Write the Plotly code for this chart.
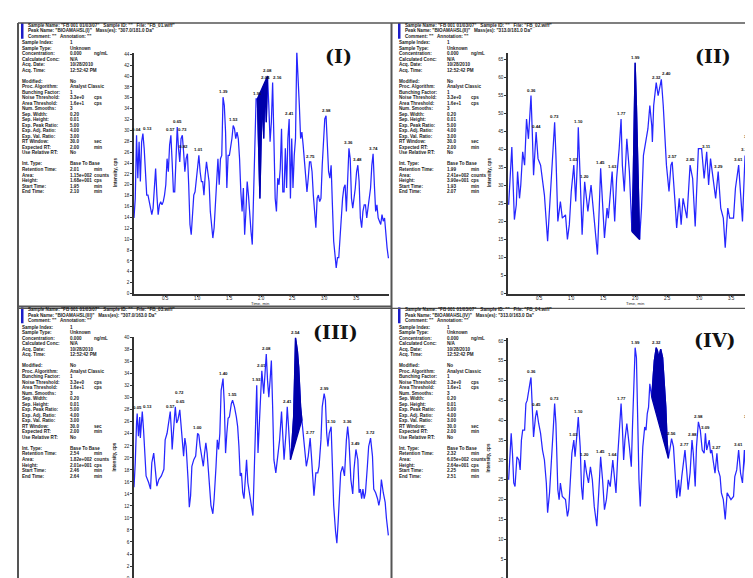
import plotly.graph_objects as go

# ---------------- data ----------------
TIME_I = [
    0.00, 0.02, 0.04, 0.06, 0.08, 0.10, 0.12, 0.14, 0.16, 0.18,
    0.20, 0.22, 0.24, 0.26, 0.28, 0.30, 0.32, 0.34, 0.36, 0.38,
    0.40, 0.42, 0.44, 0.46, 0.48, 0.50, 0.52, 0.54, 0.56, 0.58,
    0.60, 0.62, 0.64, 0.66, 0.68, 0.70, 0.72, 0.74, 0.76, 0.78,
    0.80, 0.82, 0.84, 0.86, 0.88, 0.90, 0.92, 0.94, 0.96, 0.98,
    1.00, 1.02, 1.04, 1.06, 1.08, 1.10, 1.12, 1.14, 1.16, 1.18,
    1.20, 1.22, 1.24, 1.26, 1.28, 1.30, 1.32, 1.34, 1.36, 1.38,
    1.40, 1.42, 1.44, 1.46, 1.48, 1.50, 1.52, 1.54, 1.56, 1.58,
    1.60, 1.62, 1.64, 1.66, 1.68, 1.70, 1.72, 1.74, 1.76, 1.78,
    1.80, 1.82, 1.84, 1.86, 1.88, 1.90, 1.92, 1.94, 1.96, 1.98,
    2.00, 2.02, 2.04, 2.06, 2.08, 2.10, 2.12, 2.14, 2.16, 2.18,
    2.20, 2.22, 2.24, 2.26, 2.28, 2.30, 2.32, 2.34, 2.36, 2.38,
    2.40, 2.42, 2.44, 2.46, 2.48, 2.50, 2.52, 2.54, 2.56, 2.58,
    2.60, 2.62, 2.64, 2.66, 2.68, 2.70, 2.72, 2.74, 2.76, 2.78,
    2.80, 2.82, 2.84, 2.86, 2.88, 2.90, 2.92, 2.94, 2.96, 2.98,
    3.00, 3.02, 3.04, 3.06, 3.08, 3.10, 3.12, 3.14, 3.16, 3.18,
    3.20, 3.22, 3.24, 3.26, 3.28, 3.30, 3.32, 3.34, 3.36, 3.38,
    3.40, 3.42, 3.44, 3.46, 3.48, 3.50, 3.52, 3.54, 3.56, 3.58,
    3.60, 3.62, 3.64, 3.66, 3.68, 3.70, 3.72, 3.74, 3.76, 3.78,
    3.80, 3.82, 3.84, 3.86, 3.88, 3.90, 3.92, 3.94, 3.96, 3.98,
    4.00, 4.02]
INT_I = [
    13.9, 17.5, 29.1, 21.2, 27.9, 20.6, 27.9, 29.4, 26.7, 22.4,
    18.1, 18.1, 16.9, 16.3, 14.5, 15.7, 20.0, 23.0, 18.1, 14.5,
    16.3, 16.9, 16.3, 16.9, 18.1, 20.0, 24.8, 22.4, 27.3, 29.1,
    24.2, 18.7, 18.7, 26.7, 30.6, 26.7, 24.2, 28.5, 29.1, 26.0,
    22.4, 24.8, 25.7, 20.0, 12.7, 10.8, 15.1, 18.1, 18.7, 20.6,
    23.6, 25.4, 22.4, 20.6, 20.6, 18.1, 21.8, 24.2, 22.4, 20.6,
    15.1, 12.7, 10.2, 12.1, 16.9, 22.4, 24.8, 20.0, 24.8, 25.4,
    36.1, 34.6, 29.7, 19.4, 25.4, 25.4, 26.7, 28.5, 30.9, 30.3,
    28.5, 29.7, 28.5, 24.8, 18.7, 15.1, 19.4, 10.8, 15.1, 20.6,
    18.1, 13.9, 11.4, 9.0, 18.1, 23.0, 35.8, 35.8, 25.4, 17.5,
    28.5, 35.8, 28.5, 38.8, 31.5, 40.0, 34.6, 27.9, 31.5, 38.8,
    28.5, 17.5, 15.1, 21.2, 20.0, 23.0, 30.3, 18.7, 18.7, 26.7,
    19.4, 28.5, 32.1, 17.5, 28.5, 19.4, 25.4, 28.5, 44.6, 40.7,
    34.6, 28.5, 29.7, 27.3, 24.8, 21.2, 18.7, 21.2, 24.2, 24.2,
    22.4, 18.1, 13.9, 12.1, 17.5, 18.1, 16.9, 17.5, 23.6, 28.5,
    32.1, 32.7, 28.5, 22.4, 21.2, 23.6, 16.3, 9.6, 7.2, 4.7,
    6.6, 6.6, 10.2, 15.1, 17.5, 19.4, 20.0, 15.1, 23.0, 26.7,
    24.8, 17.5, 15.7, 17.5, 19.4, 22.4, 23.6, 20.6, 13.9, 12.1,
    15.1, 16.3, 16.3, 13.9, 15.7, 17.5, 19.4, 23.6, 25.7, 20.0,
    15.1, 16.3, 13.9, 13.3, 12.7, 14.5, 13.3, 13.9, 10.2, 8.4,
    6.6, 6.6]

TIME_II = [
    0.01, 0.03, 0.06, 0.10, 0.13, 0.15, 0.18, 0.20, 0.23, 0.26,
    0.29, 0.32, 0.36, 0.38, 0.40, 0.44, 0.47, 0.51, 0.55, 0.57,
    0.62, 0.66, 0.73, 0.75, 0.78, 0.82, 0.85, 0.90, 0.93, 0.96,
    0.99, 1.03, 1.06, 1.09, 1.10, 1.13, 1.16, 1.20, 1.25, 1.30,
    1.34, 1.36, 1.40, 1.43, 1.45, 1.51, 1.55, 1.57, 1.63, 1.67,
    1.70, 1.74, 1.77, 1.79, 1.82, 1.86, 1.90, 1.94, 1.96, 1.99,
    2.01, 2.06, 2.09, 2.12, 2.15, 2.19, 2.22, 2.25, 2.26, 2.28,
    2.32, 2.35, 2.40, 2.43, 2.48, 2.52, 2.55, 2.57, 2.61, 2.64,
    2.68, 2.71, 2.74, 2.80, 2.85, 2.89, 2.93, 2.98, 3.03, 3.07,
    3.11, 3.14, 3.17, 3.21, 3.25, 3.29, 3.33, 3.37, 3.40, 3.44,
    3.47, 3.53, 3.56, 3.61, 3.64, 3.67, 3.71, 3.75, 3.80, 3.86,
    3.89, 3.93, 3.96]
INT_II = [
    24.6, 32.8, 40.6, 20.5, 24.6, 33.8, 26.4, 30.1, 39.3, 35.6,
    48.4, 42.9, 54.9, 44.8, 32.8, 44.8, 37.4, 35.6, 30.1, 27.3,
    14.5, 27.3, 47.5, 38.3, 20.0, 25.5, 20.9, 21.8, 15.0, 19.1,
    28.3, 35.6, 25.5, 38.3, 46.1, 31.9, 16.3, 31.0, 22.8, 30.1,
    22.8, 17.2, 10.8, 24.6, 34.7, 15.4, 23.7, 20.9, 33.8, 20.0,
    31.9, 40.2, 48.4, 35.6, 28.3, 42.9, 33.8, 17.2, 31.9, 64.0,
    52.1, 15.0, 23.7, 38.3, 41.1, 45.7, 52.1, 46.6, 42.0, 52.1,
    58.5, 54.9, 59.4, 52.1, 35.6, 28.3, 35.6, 36.5, 26.4, 18.2,
    26.4, 19.1, 26.4, 20.9, 35.6, 31.9, 18.6, 40.2, 40.2, 31.9,
    39.3, 30.1, 37.4, 31.0, 26.4, 33.8, 23.7, 20.9, 12.7, 23.7,
    20.9, 20.9, 29.2, 35.6, 27.1, 20.0, 38.3, 24.6, 25.5, 25.5,
    24.6, 42.0, 25.5]

TIME_III = [
    0.00, 0.02, 0.04, 0.05, 0.07, 0.09, 0.10, 0.13, 0.15, 0.17,
    0.19, 0.23, 0.26, 0.28, 0.31, 0.34, 0.36, 0.39, 0.43, 0.47,
    0.49, 0.52, 0.55, 0.57, 0.59, 0.60, 0.63, 0.65, 0.67, 0.69,
    0.72, 0.75, 0.78, 0.80, 0.82, 0.85, 0.87, 0.89, 0.91, 0.94,
    0.97, 1.00, 1.02, 1.04, 1.07, 1.09, 1.11, 1.13, 1.15, 1.18,
    1.21, 1.24, 1.26, 1.29, 1.31, 1.33, 1.35, 1.37, 1.40, 1.42,
    1.44, 1.46, 1.48, 1.50, 1.53, 1.55, 1.58, 1.61, 1.63, 1.65,
    1.67, 1.69, 1.71, 1.73, 1.75, 1.77, 1.79, 1.82, 1.85, 1.87,
    1.89, 1.91, 1.93, 1.95, 1.97, 1.99, 2.01, 2.04, 2.06, 2.08,
    2.10, 2.12, 2.14, 2.16, 2.18, 2.20, 2.23, 2.26, 2.29, 2.32,
    2.34, 2.36, 2.39, 2.41, 2.43, 2.46, 2.48, 2.51, 2.53, 2.54,
    2.57, 2.59, 2.62, 2.64, 2.67, 2.69, 2.71, 2.74, 2.77, 2.79,
    2.81, 2.83, 2.86, 2.89, 2.91, 2.94, 2.96, 2.99, 3.01, 3.03,
    3.05, 3.07, 3.10, 3.12, 3.14, 3.17, 3.19, 3.21, 3.23, 3.25,
    3.28, 3.31, 3.34, 3.36, 3.38, 3.41, 3.44, 3.46, 3.49, 3.52,
    3.54, 3.56, 3.58, 3.60, 3.62, 3.64, 3.67, 3.69, 3.72, 3.75,
    3.77, 3.80, 3.83, 3.85, 3.87, 3.89, 3.92, 3.95, 3.97, 4.00]
INT_III = [
    15.1, 19.2, 25.8, 27.4, 23.6, 26.8, 23.3, 27.7, 24.7, 20.8,
    17.0, 15.9, 14.8, 19.2, 20.8, 17.5, 15.3, 16.4, 17.0, 18.1,
    23.0, 24.1, 26.8, 27.7, 24.1, 21.4, 25.8, 28.5, 25.8, 26.3,
    28.0, 24.7, 20.3, 23.3, 21.9, 16.4, 11.8, 13.7, 18.6, 19.7,
    20.3, 24.1, 23.8, 21.9, 20.3, 18.6, 20.8, 22.5, 20.8, 15.9,
    12.1, 10.7, 13.2, 18.6, 23.0, 21.4, 24.1, 31.2, 33.2, 29.0,
    20.8, 24.1, 26.6, 26.8, 29.0, 29.6, 28.5, 26.8, 25.2, 21.9,
    17.0, 17.5, 14.2, 13.2, 17.5, 19.7, 15.9, 13.7, 12.1, 10.4,
    17.5, 26.8, 32.1, 20.8, 25.8, 31.2, 34.5, 30.7, 34.0, 37.3,
    32.9, 30.1, 32.9, 36.2, 28.5, 19.7, 17.5, 20.8, 23.0, 27.7,
    23.0, 19.7, 24.1, 28.5, 25.2, 19.7, 21.9, 26.8, 35.1, 40.0,
    37.8, 35.1, 28.5, 26.3, 23.6, 20.8, 18.6, 20.3, 23.3, 20.3,
    15.9, 13.7, 17.5, 17.5, 18.6, 23.0, 28.5, 30.7, 29.6, 24.1,
    21.9, 24.1, 25.2, 18.6, 12.1, 7.7, 5.8, 9.3, 14.2, 17.5,
    18.6, 17.0, 23.0, 25.2, 23.0, 16.4, 14.0, 18.1, 21.4, 19.7,
    14.2, 14.8, 13.2, 14.8, 13.2, 14.2, 18.6, 21.9, 23.3, 20.3,
    14.8, 14.2, 13.2, 12.1, 13.2, 16.4, 14.2, 12.6, 9.9, 7.1]

TIME_IV = [
    0.01, 0.03, 0.05, 0.07, 0.09, 0.11, 0.14, 0.17, 0.19, 0.21,
    0.23, 0.26, 0.28, 0.30, 0.32, 0.35, 0.36, 0.38, 0.40, 0.43,
    0.45, 0.48, 0.51, 0.54, 0.57, 0.60, 0.62, 0.65, 0.68, 0.71,
    0.73, 0.75, 0.78, 0.80, 0.82, 0.85, 0.90, 0.93, 0.95, 0.97,
    1.00, 1.03, 1.05, 1.08, 1.10, 1.13, 1.15, 1.17, 1.20, 1.23,
    1.26, 1.29, 1.32, 1.35, 1.39, 1.42, 1.45, 1.48, 1.51, 1.54,
    1.57, 1.60, 1.64, 1.67, 1.69, 1.72, 1.75, 1.77, 1.79, 1.81,
    1.83, 1.86, 1.90, 1.93, 1.95, 1.97, 1.99, 2.01, 2.03, 2.05,
    2.07, 2.09, 2.11, 2.14, 2.16, 2.18, 2.20, 2.22, 2.25, 2.27,
    2.29, 2.32, 2.34, 2.36, 2.39, 2.42, 2.44, 2.47, 2.49, 2.51,
    2.54, 2.56, 2.59, 2.61, 2.64, 2.67, 2.69, 2.72, 2.74, 2.77,
    2.80, 2.82, 2.85, 2.88, 2.90, 2.93, 2.95, 2.98, 3.01, 3.04,
    3.07, 3.09, 3.11, 3.15, 3.17, 3.19, 3.21, 3.24, 3.27, 3.29,
    3.32, 3.34, 3.37, 3.40, 3.43, 3.46, 3.49, 3.53, 3.55, 3.58,
    3.61, 3.64, 3.67, 3.70, 3.72, 3.75, 3.78, 3.81, 3.85, 3.88,
    3.91, 3.93, 3.96]
INT_IV = [
    25.0, 32.5, 36.7, 31.7, 24.2, 23.3, 30.8, 30.0, 27.5, 35.0,
    37.5, 37.5, 44.2, 45.0, 47.5, 50.0, 50.8, 40.8, 35.8, 40.8,
    42.5, 39.2, 36.7, 32.5, 30.0, 24.2, 16.7, 21.7, 31.7, 38.3,
    44.2, 39.2, 22.5, 20.0, 24.2, 20.8, 20.0, 15.8, 17.5, 23.3,
    31.7, 35.0, 30.8, 36.7, 40.8, 33.3, 23.3, 20.0, 30.0, 26.7,
    24.2, 28.3, 25.0, 18.3, 13.3, 21.7, 30.8, 25.0, 17.5, 20.0,
    25.0, 23.3, 30.0, 25.0, 21.7, 31.7, 40.0, 44.2, 38.3, 30.0,
    35.0, 39.2, 33.3, 28.3, 39.2, 47.5, 58.3, 55.8, 39.2, 25.0,
    18.3, 25.0, 33.3, 38.3, 37.5, 41.7, 43.3, 49.2, 45.8, 50.8,
    55.0, 58.3, 57.5, 55.8, 57.9, 55.8, 51.7, 43.3, 35.0, 30.4,
    33.3, 35.4, 33.3, 26.7, 20.4, 25.0, 20.8, 25.8, 28.3, 32.5,
    26.7, 22.5, 26.7, 35.0, 31.7, 23.3, 33.3, 39.6, 37.5, 32.5,
    31.7, 36.7, 32.5, 35.0, 31.7, 32.5, 30.0, 26.7, 31.7, 27.5,
    25.8, 21.7, 20.0, 15.0, 21.7, 20.8, 20.0, 20.8, 25.8, 27.5,
    32.5, 26.7, 24.2, 32.5, 26.7, 22.5, 24.2, 25.8, 25.0, 26.7,
    31.7, 39.6, 25.0]

PEAKS_I = ["0.04", "0.13", "0.57", "0.65", "0.73", "0.82", "1.01", "1.39", "1.53", "1.91",
           "2.04", "2.08", "2.16", "2.41", "2.54", "2.75", "2.98", "3.36", "3.48", "3.74"]
PEAKS_II = ["0.36", "0.44", "0.73", "1.03", "1.10", "1.20", "1.45", "1.63", "1.77", "1.99",
            "2.32", "2.40", "2.57", "2.85", "3.00", "3.11", "3.29", "3.61", "3.71", "3.93"]
PEAKS_III = ["0.05", "0.13", "0.57", "0.65", "0.72", "1.00", "1.40", "1.55", "1.93", "2.01",
             "2.08", "2.41", "2.54", "2.77", "2.99", "3.10", "3.36", "3.49", "3.72"]
PEAKS_IV = ["0.36", "0.45", "0.73", "1.03", "1.10", "1.20", "1.45", "1.64", "1.77", "1.99",
            "2.32", "2.56", "2.77", "2.88", "2.98", "3.09", "3.27", "3.61", "3.70", "3.93"]

X_TICKS = [0.5, 1.0, 1.5, 2.0, 2.5, 3.0, 3.5]
X_TICK_TEXT = ["0.5", "1.0", "1.5", "2.0", "2.5", "3.0", "3.5"]

HEADERS = [
    ['Sample Name: "FB 001 01/03/07"   Sample ID: ""   File: "FB_01.wiff"',
     'Peak Name: "BIOAMAHSL(I)"   Mass(es): "307.0/181.0 Da"',
     'Comment: ""   Annotation: ""'],
    ['Sample Name: "FB 001 01/03/07"   Sample ID: ""   File: "FB_02.wiff"',
     'Peak Name: "BIOAMAHSL(II)"   Mass(es): "313.0/181.0 Da"',
     'Comment: ""   Annotation: ""'],
    ['Sample Name: "FB 001 01/03/07"   Sample ID: ""   File: "FB_03.wiff"',
     'Peak Name: "BIOAMAHSL(III)"   Mass(es): "307.0/163.0 Da"',
     'Comment: ""   Annotation: ""'],
    ['Sample Name: "FB 001 01/03/07"   Sample ID: ""   File: "FB_04.wiff"',
     'Peak Name: "BIOAMAHSL(IV)"   Mass(es): "313.0/163.0 Da"',
     'Comment: ""   Annotation: ""'],
]
META1_LABELS = ["Sample Index:", "Sample Type:", "Concentration:", "Calculated Conc:",
                "Acq. Date:", "Acq. Time:"]
META1_VALUES = ["1", "Unknown", "0.000", "N/A", "10/28/2010", "12:52:42 PM"]
META1_UNITS = ["", "", "ng/mL", "", "", ""]
META2_LABELS = ["Modified:", "Proc. Algorithm:", "Bunching Factor:", "Noise Threshold:",
                "Area Threshold:", "Num. Smooths:", "Sep. Width:", "Sep. Height:",
                "Exp. Peak Ratio:", "Exp. Adj. Ratio:", "Exp. Val. Ratio:", "RT Window:",
                "Expected RT:", "Use Relative RT:"]
META2_VALUES = ["No", "Analyst Classic", "1", "3.3e+0", "1.6e+1", "3", "0.20", "0.01",
                "5.00", "4.00", "3.00", "30.0", "2.00", "No"]
META2_UNITS = ["", "", "", "cps", "cps", "", "", "", "", "", "", "sec", "min", ""]
META3_LABELS = ["Int. Type:", "Retention Time:", "Area:", "Height:", "Start Time:", "End Time:"]
META3_VALUES = [
    ["Base To Base", "2.01", "1.15e+002", "1.68e+001", "1.95", "2.10"],
    ["Base To Base", "1.99", "2.41e+002", "3.90e+001", "1.93", "2.07"],
    ["Base To Base", "2.54", "1.82e+002", "2.01e+001", "2.46", "2.64"],
    ["Base To Base", "2.32", "6.05e+002", "2.64e+001", "2.25", "2.51"],
]
META3_UNITS = ["", "min", "counts", "cps", "min", "min"]

# ---------------- layout / styling ----------------
W, H = 753, 578
def fx(p):
    return p / W
def fy(p):
    return 1 - p / H

LINE_COL = "#2626ff"
DARK_COL = "#0000aa"
AX_COL = "#333333"
SMALL = dict(family="Liberation Sans", size=4.6, color="#1a1a1a")
LABEL_FONT = dict(family="Liberation Sans", size=4.4, color="#111")
LABEL_W, LABEL_H = 10.0, 5.0   # approximate label box in px
RIGHT_LIMIT = W - 7            # keep peak labels inside the picture

PANELS = [
    dict(t=TIME_I, v=INT_I, peaks=PEAKS_I, win=0.045, xpx=(126, 381), ypx=(43, 286),
         xr=[0, 4.01], yr=[0, 44.3], dy=2, fill=(1.93, 2.11), title="(I)", tpos=(330, 46),
         ox=0, oy=0, xtitle=(253, 296.3), xlab_y=290.6),
    dict(t=TIME_II, v=INT_II, peaks=PEAKS_II, win=0.02, xpx=(500, 753), ypx=(43, 286),
         xr=[0, 3.96], yr=[0, 66.8], dy=5, fill=(1.94, 2.06), title="(II)", tpos=(705, 46),
         ox=377, oy=0, xtitle=(627, 296.3), xlab_y=290.6),
    dict(t=TIME_III, v=INT_III, peaks=PEAKS_III, win=0.02, xpx=(126, 381), ypx=(330, 573),
         xr=[0, 4.01], yr=[0, 40.1], dy=2, fill=(2.46, 2.64), title="(III)", tpos=(327, 325),
         ox=0, oy=287, xtitle=None, xlab_y=576.8),
    dict(t=TIME_IV, v=INT_IV, peaks=PEAKS_IV, win=0.02, xpx=(500, 753), ypx=(331, 574),
         xr=[0, 3.96], yr=[0, 60.7], dy=5, fill=(2.25, 2.51), title="(IV)", tpos=(707, 333),
         ox=377, oy=287, xtitle=None, xlab_y=577.2),
]

fig = go.Figure()
annotations = []
shapes = []
layout_axes = {}


def paper_text(x, y, text, font, xanchor="left", **kw):
    d = dict(x=fx(x), y=fy(y), xref="paper", yref="paper", text=text, showarrow=False,
             xanchor=xanchor, yanchor="middle", font=font)
    d.update(kw)
    annotations.append(d)


def overlaps(b, boxes):
    for c in boxes:
        if b[0] < c[2] and c[0] < b[2] and b[1] < c[3] and c[1] < b[3]:
            return True
    return False


for i, p in enumerate(PANELS):
    n = "" if i == 0 else str(i + 1)
    xa, ya = "x" + n, "y" + n
    t, v = p["t"], p["v"]

    # main trace
    fig.add_trace(go.Scatter(x=t, y=v, mode="lines", xaxis=xa, yaxis=ya,
                             line=dict(color=LINE_COL, width=1.25), hoverinfo="skip",
                             showlegend=False))
    # integrated (highlighted) peak region
    a, b = p["fill"]
    sel = [(ti, vi) for ti, vi in zip(t, v) if a <= ti <= b]
    px_ = [s[0] for s in sel] + [sel[0][0]]
    py_ = [s[1] for s in sel] + [sel[0][1]]
    fig.add_trace(go.Scatter(x=px_, y=py_, mode="lines", fill="toself", fillcolor=DARK_COL,
                             xaxis=xa, yaxis=ya, line=dict(color=DARK_COL, width=1.3),
                             hoverinfo="skip", showlegend=False))

    x0, x1 = p["xpx"]
    y0, y1 = p["ypx"]
    layout_axes["xaxis" + n] = dict(
        domain=[fx(x0), fx(x1)], range=p["xr"], anchor=ya, tickvals=X_TICKS,
        showticklabels=False, showline=True, linecolor=AX_COL, linewidth=1.6,
        ticks="outside", ticklen=1.5, tickwidth=0.8, tickcolor=AX_COL,
        showgrid=False, zeroline=False, fixedrange=True)
    layout_axes["yaxis" + n] = dict(
        domain=[fy(y1), fy(y0)], range=p["yr"], anchor=xa, tick0=0, dtick=p["dy"],
        showline=True, linecolor=AX_COL, linewidth=1.6, ticks="outside", ticklen=2,
        tickwidth=0.8, tickcolor=AX_COL, tickfont=SMALL, showgrid=False, zeroline=False,
        fixedrange=True)

    # x tick labels placed on the axis' own data coordinates
    for tv, tt in zip(X_TICKS, X_TICK_TEXT):
        annotations.append(dict(x=tv, y=fy(p["xlab_y"]), xref=xa, yref="paper", text=tt,
                                showarrow=False, xanchor="center", yanchor="middle",
                                font=SMALL))

    # peak labels (nudged sideways / upward when they would collide)
    placed = []
    xr0, xr1 = p["xr"]
    yr0, yr1 = p["yr"]
    for lab in p["peaks"]:
        tc = float(lab)
        cand = [(vi, ti) for ti, vi in zip(t, v) if abs(ti - tc) <= p["win"]]
        if not cand:
            continue
        vm, tm = max(cand)
        cx = x0 + (tm - xr0) / (xr1 - xr0) * (x1 - x0)
        by = y1 - (vm - yr0) / (yr1 - yr0) * (y1 - y0) - 1
        chosen = None
        for dxs, dys in [(0, 1), (5, 1), (-5, 1), (8, 1), (-8, 1), (0, 7), (6, 7), (-6, 7),
                         (0, 13), (10, 1), (-10, 1)]:
            if cx + dxs + LABEL_W / 2 > RIGHT_LIMIT:
                dxs = RIGHT_LIMIT - LABEL_W / 2 - cx
            box = (cx + dxs - LABEL_W / 2, by - dys - LABEL_H + 1,
                   cx + dxs + LABEL_W / 2, by - dys + 1)
            if not overlaps(box, placed):
                chosen = (dxs, dys)
                break
        if chosen is None:
            chosen = (min(0.0, RIGHT_LIMIT - LABEL_W / 2 - cx), 1)
        dxs, dys = chosen
        placed.append((cx + dxs - LABEL_W / 2, by - dys - LABEL_H + 1,
                       cx + dxs + LABEL_W / 2, by - dys + 1))
        annotations.append(dict(x=tm, y=vm, xref=xa, yref=ya, text="<b>" + lab + "</b>",
                                showarrow=False, xanchor="center", yanchor="bottom",
                                xshift=dxs, yshift=dys, font=LABEL_FONT))

    # panel title
    paper_text(p["tpos"][0], p["tpos"][1], "<b>" + p["title"] + "</b>",
               dict(family="DejaVu Serif", size=19, color="#111"), xanchor="center")
    # axis titles
    paper_text(x0 - 19, (y0 + y1) / 2, "<b>Intensity, cps</b>", SMALL, xanchor="center",
               textangle=-90)
    if p["xtitle"]:
        paper_text(p["xtitle"][0], p["xtitle"][1], "Time, min",
                   dict(family="Liberation Sans", size=4.2, color="#1a1a1a"),
                   xanchor="center")

    # header + metadata text
    ox, oy = p["ox"], p["oy"]
    shapes.append(dict(type="rect", xref="paper", yref="paper",
                       x0=fx(ox + 13), x1=fx(ox + 15.5), y0=fy(oy + 29), y1=fy(oy + 13),
                       fillcolor="#1c1cc8", line=dict(width=0)))
    for j, line in enumerate(HEADERS[i]):
        paper_text(ox + 18, oy + 15.5 + 5.5 * j, "<b>" + line + "</b>", SMALL)
    blocks = [
        (META1_LABELS, META1_VALUES, META1_UNITS, 33.0),
        (META2_LABELS, META2_VALUES, META2_UNITS, 71.7),
        (META3_LABELS, META3_VALUES[i], META3_UNITS, 155.3),
    ]
    for labels, values, units, ystart in blocks:
        for j, lab in enumerate(labels):
            yy = oy + ystart + 5.57 * j
            paper_text(ox + 12, yy, "<b>" + lab + "</b>", SMALL)
            paper_text(ox + 60, yy, "<b>" + values[j] + "</b>", SMALL)
            if units[j]:
                paper_text(ox + 84, yy, "<b>" + units[j] + "</b>", SMALL)

# frame lines
FRAME = "#555555"
for (xa0, ya0, xa1, ya1, w) in [
    (10, 13, 753, 13, 1.5),
    (10, 13, 10, 578, 2),
    (383.5, 13, 383.5, 578, 2),
    (10, 299, 383.5, 299, 2),
    (10, 301, 753, 301, 1.2),
]:
    shapes.append(dict(type="line", xref="paper", yref="paper", x0=fx(xa0), y0=fy(ya0),
                       x1=fx(xa1), y1=fy(ya1), line=dict(color=FRAME, width=w)))

fig.update_layout(
    width=W, height=H, autosize=False,
    margin=dict(l=0, r=0, t=0, b=0),
    paper_bgcolor="white", plot_bgcolor="white",
    showlegend=False,
    annotations=annotations, shapes=shapes,
    **layout_axes,
)

fig.write_html("out.html")
